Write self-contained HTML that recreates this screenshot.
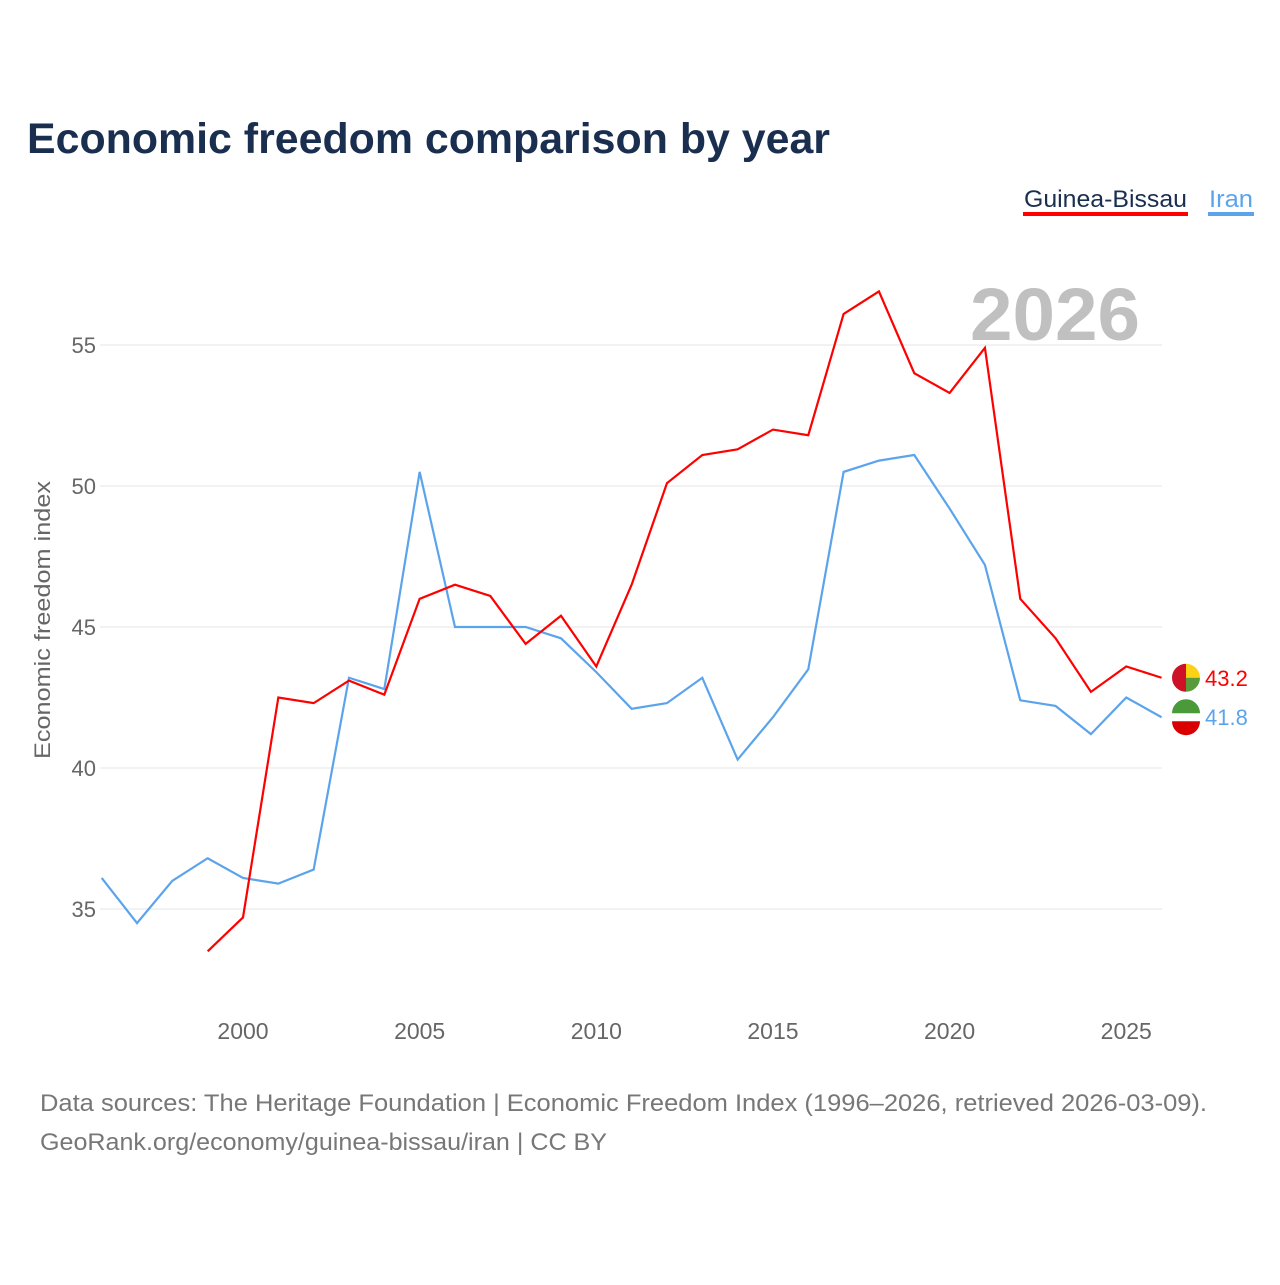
<!DOCTYPE html>
<html><head><meta charset="utf-8"><style>
body{margin:0;background:#fff;font-family:"Liberation Sans",sans-serif}
</style></head><body>
<svg width="1280" height="1280" xmlns="http://www.w3.org/2000/svg" id="c">
<text x="27" y="153" font-size="43" font-weight="bold" fill="#1a2e4f" textLength="803" lengthAdjust="spacingAndGlyphs">Economic freedom comparison by year</text>
<g>
<text x="1024" y="207" font-size="24" fill="#1a2e4f" textLength="163" lengthAdjust="spacingAndGlyphs">Guinea-Bissau</text>
<rect x="1023" y="212" width="165" height="4" fill="#ff0000"/>
<text x="1209" y="207" font-size="24" fill="#5ba4ec" textLength="44" lengthAdjust="spacingAndGlyphs">Iran</text>
<rect x="1208" y="212" width="46" height="4" fill="#5ba4ec"/>
</g>
<text x="1140" y="340" font-size="74" font-weight="bold" fill="#c0c0c0" text-anchor="end" textLength="170" lengthAdjust="spacingAndGlyphs">2026</text>
<text transform="translate(50,620) rotate(-90)" font-size="22" fill="#666" text-anchor="middle" textLength="278" lengthAdjust="spacingAndGlyphs">Economic freedom index</text>
<g id="grid"></g><g id="lines"></g><g id="ends"></g>
<text x="40" y="1111" font-size="24" fill="#777" textLength="1167" lengthAdjust="spacingAndGlyphs">Data sources: The Heritage Foundation | Economic Freedom Index (1996–2026, retrieved 2026-03-09).</text>
<text x="40" y="1150" font-size="24" fill="#777" textLength="567" lengthAdjust="spacingAndGlyphs">GeoRank.org/economy/guinea-bissau/iran | CC BY</text>
</svg>
<script>
const yTicks=[35,40,45,50,55];
const xTicks=[2000,2005,2010,2015,2020,2025];
const iranYears=[1996,1997,1998,1999,2000,2001,2002,2003,2004,2005,2006,2007,2008,2009,2010,2011,2012,2013,2014,2015,2016,2017,2018,2019,2020,2021,2022,2023,2024,2025,2026];
const iranValues=[36.1,34.5,36.0,36.8,36.1,35.9,36.4,43.2,42.8,50.5,45.0,45.0,45.0,44.6,43.4,42.1,42.3,43.2,40.3,41.8,43.5,50.5,50.9,51.1,49.2,47.2,42.4,42.2,41.2,42.5,41.8];
const gbYears=[1999,2000,2001,2002,2003,2004,2005,2006,2007,2008,2009,2010,2011,2012,2013,2014,2015,2016,2017,2018,2019,2020,2021,2022,2023,2024,2025,2026];
const gbValues=[33.5,34.7,42.5,42.3,43.1,42.6,46.0,46.5,46.1,44.4,45.4,43.6,46.5,50.1,51.1,51.3,52.0,51.8,56.1,56.9,54.0,53.3,54.9,46.0,44.6,42.7,43.6,43.2];
const NS="http://www.w3.org/2000/svg";
const X=y=>243+(y-2000)*35.33;
const Y=v=>768-(v-40)*28.2;
function mk(t,a,p){const e=document.createElementNS(NS,t);for(const k in a)e.setAttribute(k,a[k]);p.appendChild(e);return e;}
const g=document.getElementById('grid');
yTicks.forEach(v=>{
 const l=mk('line',{x1:100,x2:1162,y1:Y(v),y2:Y(v),stroke:'#e6e6e6'},g);
 
 
 const t=mk('text',{x:96,y:Y(v)+8,'font-size':22,fill:'#666','text-anchor':'end'},g);t.textContent=v;
 
 
});
xTicks.forEach(y=>{
 const t=mk('text',{x:X(y),y:1039,'font-size':23,fill:'#666','text-anchor':'middle'},g);t.textContent=y;
 
 
});
const L=document.getElementById('lines');
const E=document.getElementById('ends');
function flag(cy,name){
 const grp=mk('g',{},E);
 
 
 if(name==='iran'){
  mk('circle',{cx:1186,cy:cy,r:14,fill:'#fff'},grp);
  mk('path',{d:`M1172 ${cy-4} A14 14 0 0 1 1200 ${cy-4} Z`,fill:'#4a9a3a'},grp);
  mk('path',{d:`M1172 ${cy+4} A14 14 0 0 0 1200 ${cy+4} Z`,fill:'#da0000'},grp);
 } else {
  mk('path',{d:`M1186 ${cy-14} A14 14 0 0 1 1200 ${cy} L1186 ${cy} Z`,fill:'#fcd116'},grp);
  mk('path',{d:`M1186 ${cy} L1200 ${cy} A14 14 0 0 1 1186 ${cy+14} Z`,fill:'#5a9a3a'},grp);
  mk('path',{d:`M1186 ${cy-14} A14 14 0 0 0 1186 ${cy+14} Z`,fill:'#ce1126'},grp);
 }
}
function series(ys,vs,col,name){
 const p=mk('polyline',{points:ys.map((y,i)=>X(y)+','+Y(vs[i])).join(' '),fill:'none',stroke:col,'stroke-width':2.2},L);
 
 
 const lv=vs[vs.length-1];
 flag(Y(lv),name);
 const t=mk('text',{x:1205,y:Y(lv)+8,'font-size':22,fill:col},E);t.textContent=lv.toFixed(1);
 
 
}
series(iranYears,iranValues,'#5ba4ec','iran');
series(gbYears,gbValues,'#ff0000','guinea-bissau');
</script>
</body></html>
